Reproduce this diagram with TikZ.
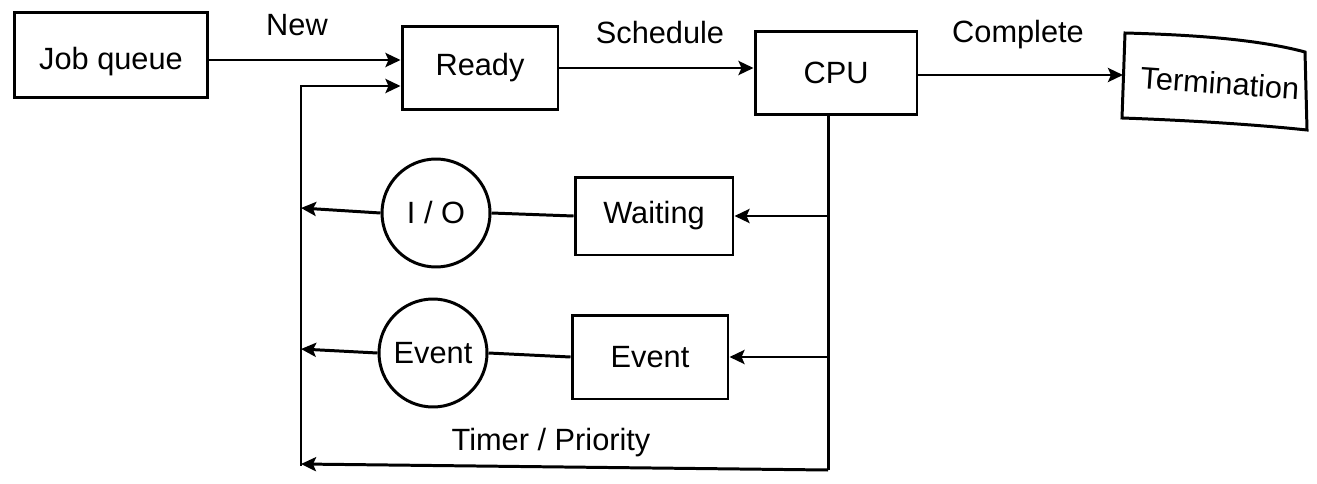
\documentclass[tikz,border=0pt]{standalone}
\usepackage{fontspec}
\setmainfont{Liberation Sans}
\usetikzlibrary{arrows.meta,calc}
\begin{document}
\begin{tikzpicture}[x=0.02cm,y=-0.02cm,
  lw/.style={line width=1.7pt},
  box/.style={draw,lw,rectangle,inner sep=0pt,font=\fontsize{17.5}{20}\selectfont},
  circ/.style={draw,lw,circle,inner sep=0pt,minimum size=2.16cm,font=\fontsize{17.5}{20}\selectfont},
  lbl/.style={font=\fontsize{17.5}{20}\selectfont,inner sep=0pt},
  arr/.style={lw,-{Stealth[length=3mm,width=2.8mm,inset=0.6mm]}},
  ln/.style={lw}]
\useasboundingbox (0,0) rectangle (1317,483);
\node[box,minimum width=3.88cm,minimum height=1.72cm] (job) at (111,55) {\raisebox{-8pt}[0pt][0pt]{Job queue}};
\node[box,minimum width=3.12cm,minimum height=1.66cm] (ready) at (480,68) {Ready};
\node[box,minimum width=3.24cm,minimum height=1.66cm] (cpu) at (836,73) {CPU};
\node[lbl,rotate=-4] (term) at (1220,83) {Termination};
\draw[lw] (1125,33) .. controls (1200,35) and (1260,40) .. (1305,52) -- (1307,130) .. controls (1250,124) and (1180,120) .. (1122,118) -- cycle;
\coordinate (tin) at (1123,75);
\node[box,minimum width=3.16cm,minimum height=1.56cm] (wait) at (654,216) {Waiting};
\node[circ] (io) at (436,213) {I / O};
\node[box,minimum width=3.12cm,minimum height=1.68cm] (evb) at (650,357) {Event};
\node[circ] (evc) at (433,353) {Event};
\node[lbl] (new) at (297,25) {New};
\node[lbl] (sched) at (660,33) {Schedule};
\node[lbl] (comp) at (1018,35) {Complete};
\node[lbl] (timer) at (551,443) {Timer / Priority};
\coordinate (lt) at (301,86);
\coordinate (lb) at (301,466);
\coordinate (rt) at (828,115);
\coordinate (rb) at (828,470);
\coordinate (iol) at (301,208);
\coordinate (evl) at (301,349);
\coordinate (botl) at (301,464);
% top row
\draw[arr] (job.east |- 0,60) -- (ready.west |- 0,60);
\draw[arr] (ready.east) -- (ready.east -| cpu.west);
\draw[arr] (cpu.east |- tin) -- (tin);
% left return
\draw[arr] (lb) -- (lt) -- (lt -| ready.west);
% right line
\draw[ln] (rt) -- (rb);
\draw[arr] (rb) -- (botl);
\draw[arr] (rt |- wait.east) -- (wait.east);
\draw[arr] (rt |- evb.east) -- (evb.east);
\draw[ln] (wait.west) -- (io.east);
\draw[ln] (evb.west) -- (evc.east);
\draw[arr] (io.west) -- (iol);
\draw[arr] (evc.west) -- (evl);
\end{tikzpicture}
\end{document}
